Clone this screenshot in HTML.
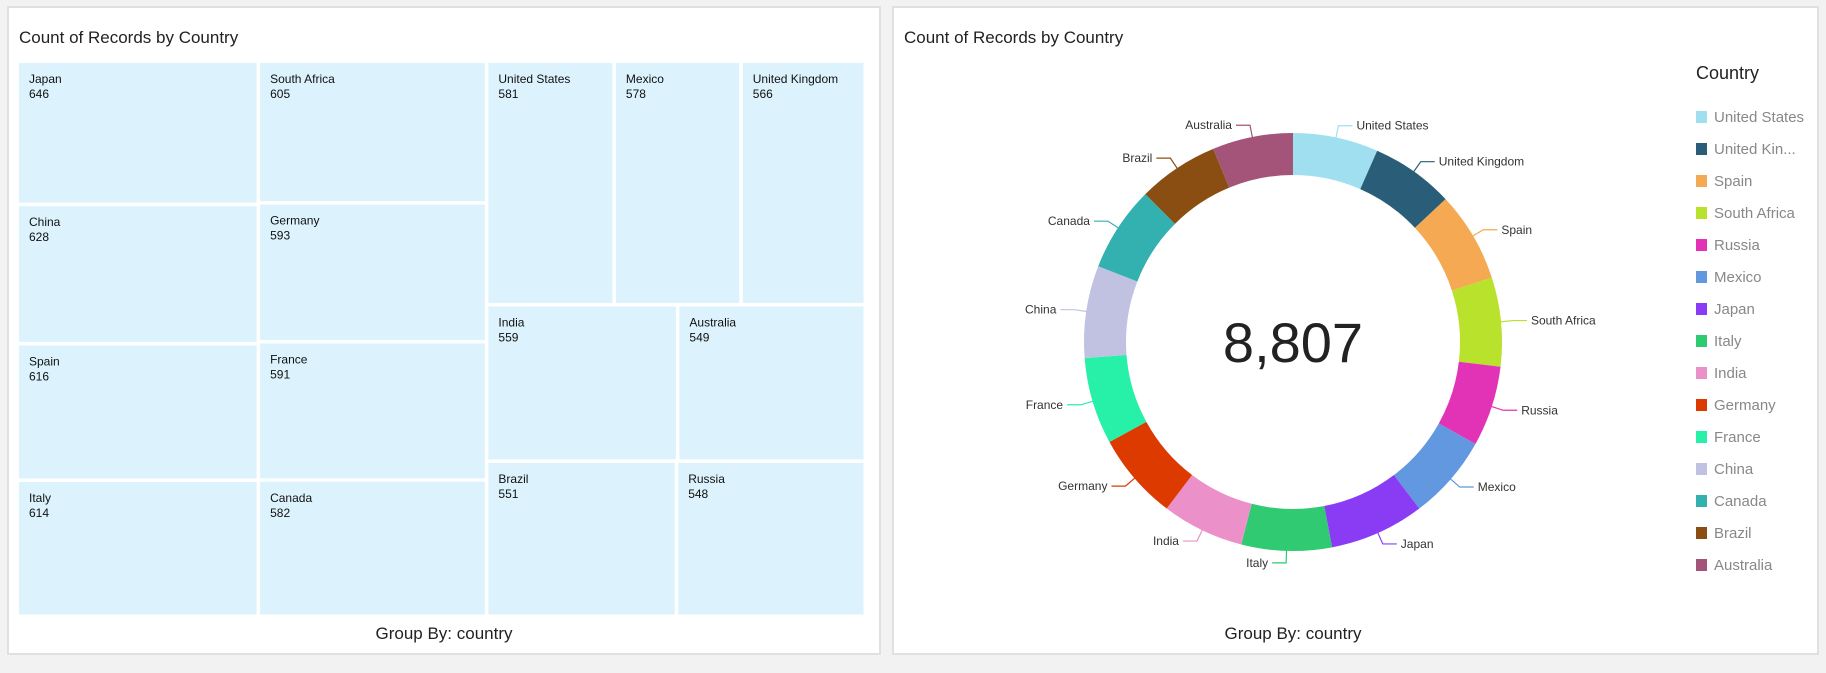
<!DOCTYPE html>
<html><head><meta charset="utf-8">
<style>
body{margin:0;width:1826px;height:673px;background:#f2f2f2;font-family:"Liberation Sans",sans-serif;overflow:hidden}
.panel{position:absolute;background:#fff;border:2px solid #e0e0e0;box-sizing:border-box}
</style></head><body>
<div class="panel" style="left:7px;top:6px;width:874px;height:649px"></div>
<div class="panel" style="left:892px;top:6px;width:927px;height:649px"></div>
<svg id="svg" width="1826" height="673" style="position:absolute;left:0;top:0" font-family="Liberation Sans, sans-serif">
<text x="19" y="43" font-size="17" fill="#222">Count of Records by Country</text>
<text x="444" y="639" font-size="17" fill="#222" text-anchor="middle">Group By: country</text>
<text x="904" y="43" font-size="17" fill="#222">Count of Records by Country</text>
<text x="1293" y="639" font-size="17" fill="#222" text-anchor="middle">Group By: country</text>
<text x="1696" y="79" font-size="18" fill="#222">Country</text>
<g id="tm"></g><g id="dn"></g><g id="lg"></g>
</svg>
<script>
const tmNames=["Japan","China","Spain","Italy","South Africa","Germany","France","Canada","United States","Mexico","United Kingdom","India","Australia","Brazil","Russia"];
const tmValues=[646,628,616,614,605,593,591,582,581,578,566,559,549,551,548];
const dnNames=["United States","United Kingdom","Spain","South Africa","Russia","Mexico","Japan","Italy","India","Germany","France","China","Canada","Brazil","Australia"];
const dnValues=[581,566,616,605,548,578,646,614,559,593,591,628,582,551,549];
const dnColors=["#a0dff0","#2a5d78","#f5a952","#b8e22c","#e233b7","#6198e0","#8a3cf5","#2fca72","#ec90c9","#dd3a00","#27f0a8","#c1c2e2","#33b0b0","#8b4e12","#a45479"];
const legendNames=["United States","United Kin...","Spain","South Africa","Russia","Mexico","Japan","Italy","India","Germany","France","China","Canada","Brazil","Australia"];
const NS="http://www.w3.org/2000/svg";
function mk(t,a,p){const e=document.createElementNS(NS,t);for(const k in a)e.setAttribute(k,a[k]);p.appendChild(e);return e;}
// treemap layout: col1 items 0-3, col2 4-7, col3 rows [8,9,10],[11,12],[13,14]
const X0=19,Y0=63,W=848,H=555,G=3.5;
const tm=document.getElementById('tm');
const sum=a=>a.reduce((s,v)=>s+v,0);
const total=sum(tmValues);
const cols=[[[0],[1],[2],[3]],[[4],[5],[6],[7]],[[8,9,10],[11,12],[13,14]]];
let cx=X0;
cols.forEach(col=>{
  const cs=sum(col.flat().map(i=>tmValues[i]));
  const cw=cs/total*W;
  let cy=Y0;
  col.forEach(row=>{
    const rs=sum(row.map(i=>tmValues[i]));
    const rh=rs/cs*H;
    let rx=cx;
    row.forEach(i=>{
      const w=tmValues[i]/rs*cw;
      const g=mk('g',{},tm);
      
      
      mk('rect',{x:rx,y:cy,width:w-G,height:rh-G,fill:'#dcf3fd'},g);
      const t1=mk('text',{x:rx+10,y:cy+20,'font-size':12,fill:'#111'},g);t1.textContent=tmNames[i];
      const t2=mk('text',{x:rx+10,y:cy+35,'font-size':12,fill:'#111'},g);t2.textContent=tmValues[i];
      rx+=w;
    });
    cy+=rh;
  });
  cx+=cw;
});
// donut
const CX=1293,CY=342,R=209,RI=167;
const dn=document.getElementById('dn');
const dt=sum(dnValues);
let a0=0;
dnValues.forEach((v,i)=>{
  const a1=a0+v/dt*2*Math.PI;
  const p=(r,a)=>[CX+r*Math.sin(a),CY-r*Math.cos(a)];
  const [x1,y1]=p(R,a0),[x2,y2]=p(R,a1),[x3,y3]=p(RI,a1),[x4,y4]=p(RI,a0);
  const lg=(a1-a0)>Math.PI?1:0;
  const path=mk('path',{d:`M${x1},${y1}A${R},${R} 0 ${lg} 1 ${x2},${y2}L${x3},${y3}A${RI},${RI} 0 ${lg} 0 ${x4},${y4}Z`,fill:dnColors[i]},dn);
  
  
  const am=(a0+a1)/2;
  const [lx1,ly1]=p(R-4,am),[lx2,ly2]=p(R+12,am);
  const right=Math.sin(am)>=0;
  const lx3=lx2+(right?14:-14);
  mk('polyline',{points:`${lx1},${ly1} ${lx2},${ly2} ${lx3},${ly2}`,fill:'none',stroke:dnColors[i],'stroke-width':1.2},dn);
  const t=mk('text',{x:lx3+(right?4:-4),y:ly2+4,'font-size':12,fill:'#333','text-anchor':right?'start':'end'},dn);
  t.textContent=dnNames[i];
  
  
  a0=a1;
});
const ct=mk('text',{x:CX,y:CY+20,'font-size':56,fill:'#222','text-anchor':'middle'},dn);
ct.textContent=dt.toLocaleString('en-US');


// legend
const lgG=document.getElementById('lg');
legendNames.forEach((n,i)=>{
  const g=mk('g',{},lgG);
  
  
  const y=117+i*32;
  mk('rect',{x:1696,y:y-6,width:11,height:12,fill:dnColors[i]},g);
  const t=mk('text',{x:1714,y:y+5,'font-size':15,fill:'#888'},g);t.textContent=n;
});
</script>
</body></html>
